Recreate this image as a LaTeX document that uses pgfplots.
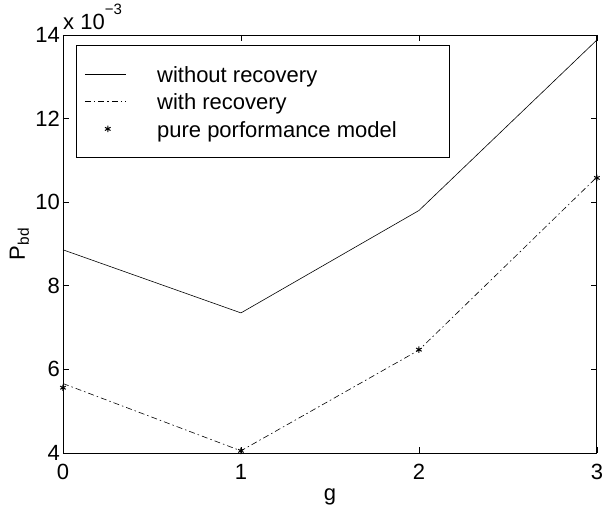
\documentclass[border=0pt]{standalone}
\usepackage{fontspec}
\setmainfont{Liberation Sans}
\usepackage{pgfplots}
\pgfplotsset{compat=1.18}

% legend images: a short line, or a single mark, in a fixed-width cell
\pgfplotsset{
  lineleg/.style={legend image code/.code={
    \draw[##1] (0pt,0pt) -- (41pt,0pt);
    \path (69pt,0pt);}},
  markleg/.style={legend image code/.code={
    \draw[##1] plot coordinates {(23pt,0pt)};
    \path (0pt,0pt) (69pt,0pt);}},
}

\begin{document}
\begin{tikzpicture}
\begin{axis}[
  scale only axis,
  width=534pt, height=418pt,
  xmin=0, xmax=3, ymin=4, ymax=14,
  xtick={0,1,2,3},
  ytick={4,6,8,10,12,14},
  tick align=inside,
  tick pos=both,
  major tick length=6pt,
  every tick/.style={black, line width=0.5pt},
  axis line style={line width=0.8pt},
  /pgf/number format/assume math mode=true,
  font=\fontsize{22}{26}\selectfont,
  yticklabel style={inner sep=0pt, xshift=-3pt},
  xticklabel style={inner sep=0pt, yshift=-11pt},
  xlabel={g},
  every axis x label/.style={at={(axis description cs:0.5,0)},
    anchor=base, inner sep=0pt, yshift=-48pt},
  ylabel={P\textsubscript{bd}},
  every axis y label/.style={at={(axis description cs:-0.0712,0.5)},
    rotate=90, anchor=base, inner sep=0pt},
  legend style={
    at={(rel axis cs:0.0243,0.976)}, anchor=north west,
    draw=black, line width=0.8pt,
    font=\fontsize{22}{26}\selectfont,
    inner xsep=8pt, inner ysep=15pt,
    row sep=0.5pt,
    nodes={inner sep=3pt, text height=19pt, text depth=2pt},
  },
  legend cell align=left,
  clip=false,
]
% without recovery
\addplot[black, line width=0.6pt, lineleg] coordinates {
  (0,8.86) (1,7.35) (2,9.80) (3,13.88)
};
\addlegendentry{\makebox[281pt][l]{without recovery}}
% with recovery
\addplot[black, line width=0.6pt,
  dash pattern=on 6pt off 3pt on 1.5pt off 3pt, lineleg] coordinates {
  (0,5.66) (1,4.05) (2,6.46) (3,10.60)
};
\addlegendentry{with recovery}
% pure performance model
\addplot[only marks, black, mark=asterisk, mark size=3.2pt,
  mark options={line width=1pt}, markleg] coordinates {
  (0,5.56) (1,4.05) (2,6.47) (3,10.58)
};
\addlegendentry{pure porformance model}
% scale factor of the y axis
\node[anchor=base west, inner sep=0pt, font=\fontsize{22}{26}\selectfont]
  at ([yshift=5pt]rel axis cs:0,1)
  {x 10\raisebox{15pt}{\fontsize{15}{16}\selectfont −3}};
\end{axis}
% fixed page margins around the axis box
\path ([shift={(-63pt,-60pt)}]current axis.south west)
      ([shift={(6pt,35pt)}]current axis.north east);
\end{tikzpicture}
\end{document}
